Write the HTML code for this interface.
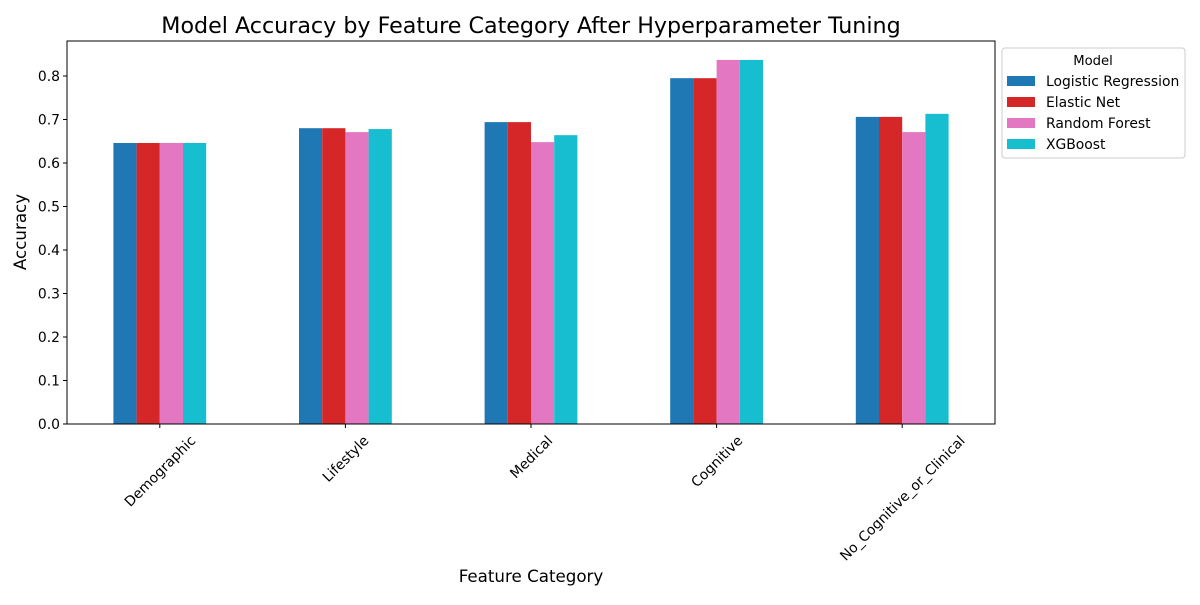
<!DOCTYPE html>
<html><head><meta charset="utf-8"><style>
body{margin:0;background:#fff;}
svg text{font-family:"DejaVu Sans","Liberation Sans",sans-serif;fill:#000;}
</style></head><body>
<svg id="chart" width="1200" height="600">
<text x="531" y="33" font-size="22.2" text-anchor="middle">Model Accuracy by Feature Category After Hyperparameter Tuning</text>
<g id="yaxis"></g><g id="bars"></g><g id="xaxis"></g>
<rect x="67" y="41" width="928" height="383" fill="none" stroke="#000" stroke-width="1"/>
<text transform="translate(26,232) rotate(-90)" font-size="16.7" text-anchor="middle">Accuracy</text>
<text x="531" y="582" font-size="16.7" text-anchor="middle">Feature Category</text>
<g id="legend">
<rect x="1002" y="48" width="183" height="110" rx="3" fill="#fff" stroke="#ccc"/>
<text x="1093" y="65" font-size="13.2" text-anchor="middle">Model</text>
</g>
</svg>
<script>
const categories=["Demographic","Lifestyle","Medical","Cognitive","No_Cognitive_or_Clinical"];
const seriesNames=["Logistic Regression","Elastic Net","Random Forest","XGBoost"];
const logReg=[0.646,0.680,0.694,0.795,0.706];
const elasticNet=[0.646,0.680,0.694,0.795,0.706];
const randomForest=[0.646,0.671,0.648,0.837,0.671];
const xgBoost=[0.646,0.678,0.664,0.837,0.713];
const yTicks=[0,0.1,0.2,0.3,0.4,0.5,0.6,0.7,0.8];
const colors=["#1f77b4","#d62728","#e377c2","#17becf"];
const series=[logReg,elasticNet,randomForest,xgBoost];
const NS="http://www.w3.org/2000/svg";
const L=67,R=995,B=424,T=41;
const y=v=>B-v*435;
const step=(R-L)/categories.length;
const x=i=>L+step*(i+0.5);
const bw=step*0.5/4;
function mk(t,a,p){const e=document.createElementNS(NS,t);for(const k in a)e.setAttribute(k,a[k]);p.appendChild(e);return e;}
const ya=document.getElementById('yaxis'),bars=document.getElementById('bars'),xa=document.getElementById('xaxis'),lg=document.getElementById('legend');
yTicks.forEach(v=>{
 const t=mk('line',{x1:L-4,x2:L,y1:y(v),y2:y(v),stroke:'#000'},ya);
 
 
 const tx=mk('text',{x:L-7,y:y(v)+5,'font-size':13.9,'text-anchor':'end'},ya);tx.textContent=v.toFixed(1);
 
 
});
series.forEach((s,j)=>s.forEach((v,i)=>{
 const r=mk('rect',{x:x(i)-2*bw+j*bw,y:y(v),width:bw,height:B-y(v),fill:colors[j]},bars);
 
 
}));
categories.forEach((c,i)=>{
 const t=mk('line',{x1:x(i),x2:x(i),y1:B,y2:B+4,stroke:'#000'},xa);
 
 
 const tx=mk('text',{'font-size':13.9,'text-anchor':'middle'},xa);tx.textContent=c;
 
 
 const len=tx.getComputedTextLength();
 const h=(len+14)*0.7071;
 const cy=B+9+h/2;
 tx.setAttribute('transform',`translate(${x(i)},${cy}) rotate(-45) translate(0,5)`);
});
seriesNames.forEach((n,j)=>{
 const yy=81+j*21;
 const r=mk('rect',{x:1007,y:yy-5,width:28,height:10,fill:colors[j]},lg);
 
 
 const t=mk('text',{x:1046,y:yy+5,'font-size':13.9},lg);t.textContent=n;
 
 
});
</script>
</body></html>
